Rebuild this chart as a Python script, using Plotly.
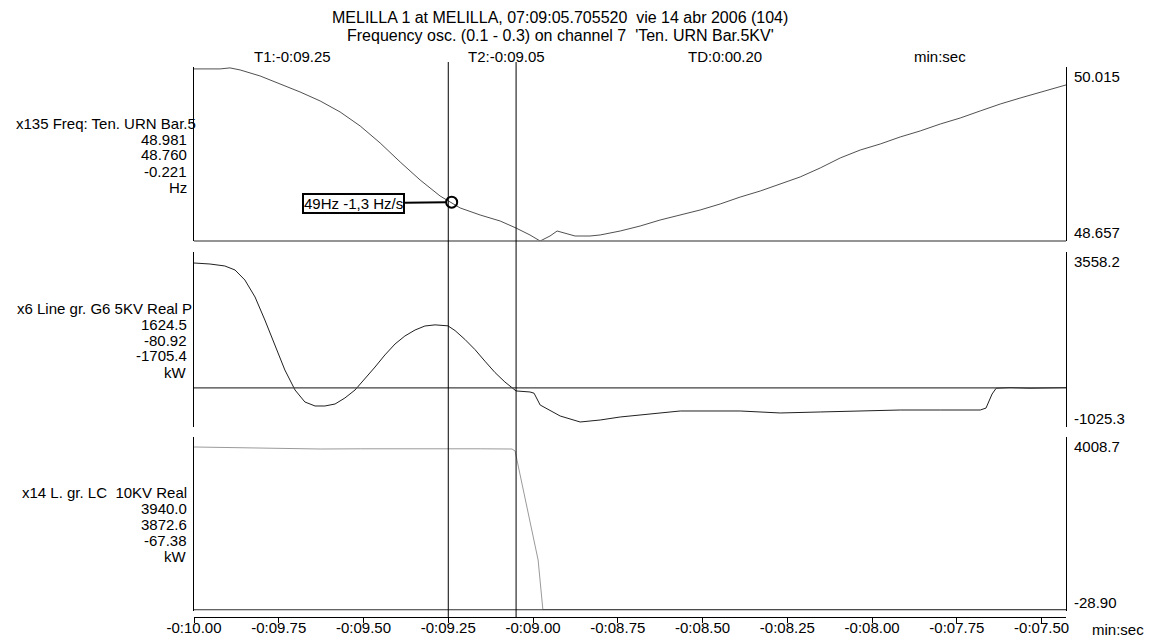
import plotly.graph_objects as go

# ---------------- data ----------------
title_lines = ["MELILLA 1 at MELILLA, 07:09:05.705520\u00a0 vie 14 abr 2006 (104)",
               "Frequency osc. (0.1 - 0.3) on channel 7\u00a0 'Ten. URN Bar.5KV'"]
header_labels = ["T1:-0:09.25", "T2:-0:09.05", "TD:0:00.20", "min:sec"]
cursor_t = [-9.25, -9.05]

x_range = [-10.0, -7.428]
tick_vals = [-10.0, -9.75, -9.5, -9.25, -9.0, -8.75, -8.5, -8.25, -8.0, -7.75, -7.5]
tick_text = ["-0:10.00", "-0:09.75", "-0:09.50", "-0:09.25", "-0:09.00", "-0:08.75",
             "-0:08.50", "-0:08.25", "-0:08.00", "-0:07.75", "-0:07.50"]

freq_t = [-10.000, -9.923, -9.894, -9.864, -9.805, -9.746, -9.687, -9.628, -9.569, -9.510,
          -9.451, -9.392, -9.333, -9.274, -9.242, -9.215, -9.156, -9.097, -9.050, -9.009,
          -8.979, -8.950, -8.929, -8.906, -8.876, -8.832, -8.802, -8.743, -8.684, -8.625,
          -8.566, -8.507, -8.448, -8.389, -8.330, -8.271, -8.212, -8.153, -8.094, -8.035,
          -7.976, -7.917, -7.858, -7.799, -7.740, -7.681, -7.622, -7.563, -7.504, -7.428]
freq_v = [50.000, 50.000, 50.008, 49.992, 49.945, 49.883, 49.820, 49.750, 49.664, 49.555,
          49.422, 49.274, 49.133, 49.008, 48.960, 48.915, 48.860, 48.813, 48.758, 48.704,
          48.657, 48.696, 48.735, 48.719, 48.696, 48.696, 48.704, 48.735, 48.774, 48.821,
          48.860, 48.899, 48.946, 49.000, 49.047, 49.102, 49.157, 49.227, 49.305, 49.367,
          49.414, 49.469, 49.516, 49.570, 49.617, 49.672, 49.726, 49.773, 49.820, 49.875]

pow_t = [-10.000, -9.953, -9.909, -9.879, -9.850, -9.820, -9.791, -9.761, -9.732, -9.702,
         -9.673, -9.643, -9.614, -9.584, -9.555, -9.525, -9.496, -9.466, -9.437, -9.407,
         -9.378, -9.348, -9.319, -9.289, -9.251, -9.230, -9.201, -9.171, -9.142, -9.112,
         -9.083, -9.050, -9.009, -8.997, -8.979, -8.950, -8.920, -8.861, -8.802, -8.743,
         -8.684, -8.625, -8.566, -8.389, -8.271, -8.153, -8.035, -7.917, -7.799, -7.681,
         -7.664, -7.646, -7.634, -7.593, -7.534, -7.428]
pow_v = [3270, 3244, 3192, 3087, 2825, 2380, 1777, 1123, 468, -56,
         -370, -475, -475, -423, -266, -56, 232, 546, 861, 1149,
         1358, 1515, 1620, 1650, 1624, 1500, 1270, 1000, 700, 400,
         154, -81, -108, -140, -449, -580, -737, -894, -842, -763,
         -711, -658, -606, -606, -658, -632, -606, -580, -580, -580,
         -530, -161, -10, 10, -10, 10]

load_t = [-10.000, -9.864, -9.746, -9.628, -9.510, -9.392, -9.274, -9.156, -9.062, -9.053,
          -8.985, -8.971, -8.802, -7.428]
load_v = [3777, 3754, 3745, 3730, 3735, 3740, 3745, 3735, 3730, 3684,
          1155, 5, 5, 5]

y_ranges = [[48.657, 50.015], [-1025.3, 3558.2], [-28.90, 4008.7]]
left_names = ["x135 Freq: Ten. URN Bar.5", "x6 Line gr. G6 5KV Real P", "x14 L. gr. LC\u00a0 10KV Real"]
left_vals = [["48.981", "48.760", "-0.221", "Hz"],
             ["1624.5", "-80.92", "-1705.4", "kW"],
             ["3940.0", "3872.6", "-67.38", "kW"]]
right_top = ["50.015", "3558.2", "4008.7"]
right_bot = ["48.657", "-1025.3", "-28.90"]
note_text = "49Hz -1,3 Hz/s"
note_point = [-9.24, 48.96]

# ---------------- layout geometry (pixels) ----------------
W, H = 1155, 639
PL, PR, PT, PB = 194, 1066, 62, 617
def fx(px):
    return (px - PL) / (PR - PL)
def fy(py):
    return (PB - py) / (PB - PT)

panels = [(67, 241), (252, 427), (437, 611)]  # top, bottom pixel
FONT = "Liberation Sans, Arial, sans-serif"
FS = 15

fig = go.Figure()
fig.add_trace(go.Scatter(x=freq_t, y=freq_v, mode="lines", line=dict(color="#505050", width=1),
                         xaxis="x", yaxis="y", hoverinfo="skip"))
fig.add_trace(go.Scatter(x=pow_t, y=pow_v, mode="lines", line=dict(color="#202020", width=1),
                         xaxis="x", yaxis="y2", hoverinfo="skip"))
fig.add_trace(go.Scatter(x=load_t, y=load_v, mode="lines", line=dict(color="#9a9a9a", width=1),
                         xaxis="x", yaxis="y3", hoverinfo="skip"))
fig.add_trace(go.Scatter(x=[note_point[0]], y=[note_point[1]], mode="markers",
                         marker=dict(symbol="circle-open", size=11, color="black", line=dict(width=2)),
                         xaxis="x", yaxis="y", hoverinfo="skip"))

yax_common = dict(showticklabels=False, showgrid=False, zeroline=False, ticks="",
                  showline=True, mirror=True, linecolor="black", linewidth=1, anchor="x",
                  fixedrange=True, automargin=False)
layout = dict(
    width=W, height=H,
    margin=dict(l=PL, r=W - PR, t=PT, b=H - PB, pad=0, autoexpand=False),
    paper_bgcolor="white", plot_bgcolor="white",
    showlegend=False,
    font=dict(family=FONT, size=FS, color="black"),
    xaxis=dict(range=x_range, tickvals=tick_vals, ticktext=tick_text, ticks="outside",
               ticklen=5, tickwidth=1, tickcolor="black", showline=True, linecolor="black",
               linewidth=1, showgrid=False, zeroline=False, anchor="free", position=0,
               automargin=False, ticklabelstandoff=-8,
               tickfont=dict(family=FONT, size=FS, color="black")),
)
names = ["yaxis", "yaxis2", "yaxis3"]
for i, (top, bot) in enumerate(panels):
    layout[names[i]] = dict(yax_common, range=y_ranges[i], domain=[fy(bot), fy(top)])
fig.update_layout(**layout)

shapes = []
shapes.append(dict(type="line", xref="x domain", yref="y domain", x0=0, x1=1, y0=0, y1=0,
                   line=dict(color="#707070", width=1.5)))
shapes.append(dict(type="line", xref="x domain", yref="y2", x0=0, x1=1, y0=0, y1=0,
                   line=dict(color="#404040", width=1.2)))
shapes.append(dict(type="line", xref="x domain", yref="y3", x0=0, x1=1, y0=0, y1=0,
                   line=dict(color="#303030", width=1.2)))
for t in cursor_t:
    shapes.append(dict(type="line", xref="x", yref="paper", x0=t, x1=t, y0=0, y1=1,
                       line=dict(color="black", width=1)))
fig.update_layout(shapes=shapes)

ann = []
def txt(text, px, py, xanchor="center", yanchor="middle", size=FS):
    ann.append(dict(text=text, x=fx(px), y=fy(py), xref="paper", yref="paper",
                    xanchor=xanchor, yanchor=yanchor, showarrow=False, borderpad=0,
                    font=dict(family=FONT, size=size, color="black")))

txt(title_lines[0], 560, 18, size=16)
txt(title_lines[1], 560, 35, size=16)
for lab, cx in zip(header_labels, [292, 506, 725, 940]):
    txt(lab, cx, 56)

name_right = [197, 193, 188]
name_y = [123, 308, 492]
for i in range(3):
    txt(left_names[i], name_right[i], name_y[i], xanchor="right")
    for k, v in enumerate(left_vals[i]):
        txt(v, 188, name_y[i] + 16 * (k + 1), xanchor="right")
    top, bot = panels[i]
    txt(right_top[i], 1073, top, xanchor="left", yanchor="top")
    txt(right_bot[i], 1073, bot + 1, xanchor="left", yanchor="bottom")
txt("min:sec", 1118, 629)

ann.append(dict(text=note_text, x=note_point[0], y=note_point[1], xref="x", yref="y",
                showarrow=True, arrowhead=0, arrowwidth=2, arrowcolor="black",
                ax=-98, ay=1, standoff=5, bordercolor="black", borderwidth=2, borderpad=0,
                bgcolor="white", align="left",
                font=dict(family=FONT, size=FS, color="black")))
fig.update_layout(annotations=ann)

fig.write_html("out.html")
